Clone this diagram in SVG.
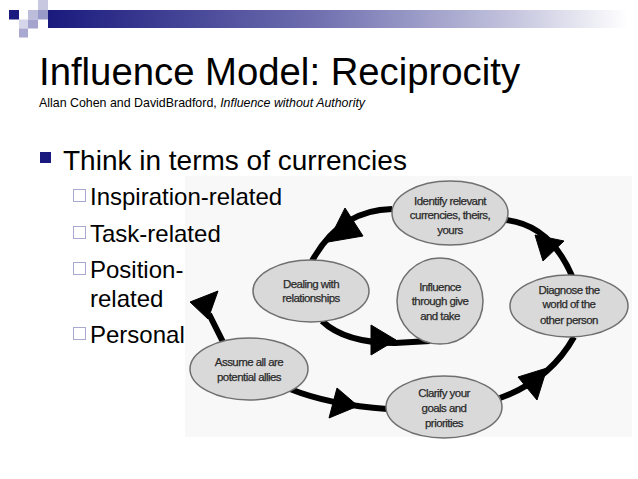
<svg xmlns="http://www.w3.org/2000/svg" width="638" height="479" viewBox="0 0 638 479">
<defs>
<linearGradient id="bar" x1="0" y1="0" x2="1" y2="0">
<stop offset="0" stop-color="#1a1a7e"/>
<stop offset="0.45" stop-color="#6c6cae"/>
<stop offset="0.8" stop-color="#c4c4de"/>
<stop offset="1" stop-color="#ffffff"/>
</linearGradient>
<style>
.t{font-family:"Liberation Sans",Arial,sans-serif;fill:#000}
.n ellipse{fill:#d9d9d9;stroke:#6f6f6f;stroke-width:1.5}
.n text{font-family:"Liberation Sans",Arial,sans-serif;font-size:11.5px;fill:#2a2a2a;stroke:#2a2a2a;stroke-width:0.25;text-anchor:middle;letter-spacing:-0.55px}
.c path{fill:none;stroke:#000;stroke-width:6;stroke-linecap:butt}
.c polygon{fill:#000;stroke:#000;stroke-width:1;stroke-linejoin:miter}
.sq{fill:none;stroke:#a8a8d0;stroke-width:1}
</style>
</defs>
<rect width="638" height="479" fill="#fff"/>
<!-- diagram background -->
<rect x="185" y="176" width="447" height="261" fill="#f8f8f8"/>
<!-- header -->
<rect x="48" y="10" width="580" height="18" fill="url(#bar)"/>
<rect x="9" y="10" width="10" height="9.5" fill="#1a1a7e"/>
<rect x="38" y="0" width="10" height="10" fill="#c8c8e0"/>
<rect x="28" y="10" width="10" height="9.5" fill="#bcbcdb"/>
<rect x="38" y="10" width="10" height="9.5" fill="#9a9ac8"/>
<rect x="19" y="19.5" width="9" height="9" fill="#d6d6ea"/>
<rect x="28" y="19.5" width="10" height="9" fill="#a4a4cf"/>
<rect x="19" y="28.5" width="9" height="9" fill="#a8a8d0"/>
<!-- title -->
<text class="t" x="39" y="85" font-size="38.3">Influence Model: Reciprocity</text>
<text class="t" x="39" y="107" font-size="12.4">Allan Cohen and DavidBradford, <tspan font-style="italic">Influence without Authority</tspan></text>
<!-- bullets -->
<rect x="40" y="152" width="11" height="11" fill="#1a1a7e"/>
<text class="t" x="63" y="170" font-size="28">Think in terms of currencies</text>
<rect class="sq" x="73.5" y="189.5" width="12" height="12"/>
<text class="t" x="90" y="205" font-size="24">Inspiration-related</text>
<rect class="sq" x="73.5" y="226.5" width="12" height="12"/>
<text class="t" x="90" y="242" font-size="24">Task-related</text>
<rect class="sq" x="73.5" y="262.5" width="12" height="12"/>
<text class="t" x="90" y="278" font-size="24">Position-</text>
<text class="t" x="90" y="307" font-size="24">related</text>
<rect class="sq" x="73.5" y="327.5" width="12" height="12"/>
<text class="t" x="90" y="343" font-size="24">Personal</text>
<!-- connectors -->
<g id="connectors" class="c">
<path d="M392,209 Q340,210 312,261"/>
<polygon points="345,208 363,236 328,242"/>
<path d="M322,321 Q345,343 395,343 L430,341"/>
<polygon points="371,325 371,355 396,340"/>
<path d="M290,389 Q330,405 387,409"/>
<polygon points="337,388 329,418 358,406"/>
<path d="M500,398 Q550,380 574,337"/>
<polygon points="518,377 537,400 547,368"/>
<path d="M572,276 Q550,225 506,220"/>
<polygon points="535,235 564,241 543,261"/>
<path d="M223,342 L209,314"/>
<polygon points="190,302 218,291 208,319"/>
</g>
<!-- nodes -->
<g id="identify" class="n">
<ellipse cx="450" cy="213" rx="58" ry="32"/>
<text x="450" y="205">Identify relevant</text>
<text x="450" y="219">currencies, theirs,</text>
<text x="450" y="234">yours</text>
</g>
<g id="influence" class="n">
<ellipse cx="440" cy="301" rx="43" ry="43"/>
<text x="440" y="291">Influence</text>
<text x="440" y="305">through give</text>
<text x="440" y="320">and take</text>
</g>
<g id="diagnose" class="n">
<ellipse cx="569" cy="306" rx="59" ry="31"/>
<text x="569" y="294">Diagnose the</text>
<text x="569" y="308">world of the</text>
<text x="569" y="324">other person</text>
</g>
<g id="dealing" class="n">
<ellipse cx="311" cy="291" rx="58" ry="31"/>
<text x="311" y="288">Dealing with</text>
<text x="311" y="302">relationships</text>
</g>
<g id="assume" class="n">
<ellipse cx="249" cy="369" rx="59" ry="31"/>
<text x="249" y="366">Assume all are</text>
<text x="249" y="381">potential allies</text>
</g>
<g id="clarify" class="n">
<ellipse cx="444" cy="407" rx="58" ry="31"/>
<text x="444" y="397">Clarify your</text>
<text x="444" y="412">goals and</text>
<text x="444" y="427">priorities</text>
</g>
</svg>
